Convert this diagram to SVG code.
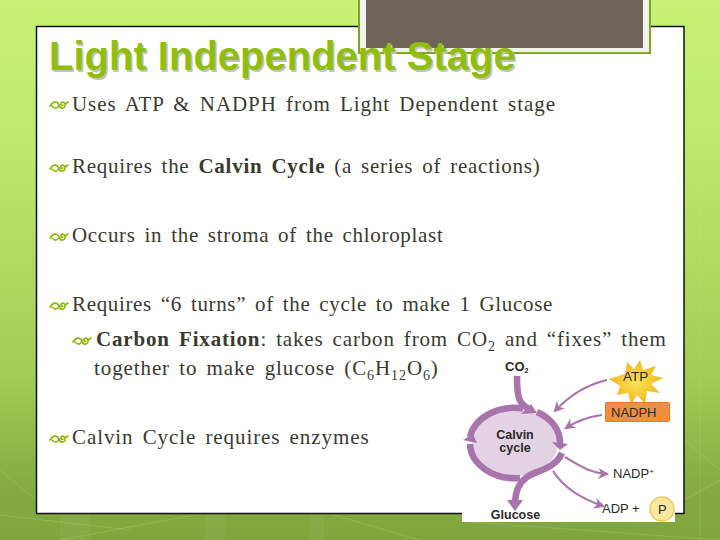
<svg xmlns="http://www.w3.org/2000/svg" width="720" height="540" viewBox="0 0 720 540">
<defs>
<linearGradient id="bg" x1="0" y1="0" x2="0" y2="1"><stop offset="0" stop-color="#c8f276"/><stop offset="0.3" stop-color="#bbe86a"/><stop offset="0.7" stop-color="#a0cc55"/><stop offset="0.9" stop-color="#84ac40"/><stop offset="1" stop-color="#7ea63c"/></linearGradient>
<radialGradient id="atpg" cx="0.5" cy="0.5" r="0.5"><stop offset="0" stop-color="#fbe35a"/><stop offset="1" stop-color="#f2b61c"/></radialGradient>
<marker id="a" viewBox="0 0 10 10" refX="8" refY="5" markerWidth="5" markerHeight="5" orient="auto"><path d="M0 0L10 5L0 10L3 5Z" fill="#a874ab"/></marker>
<g id="bullet" fill="none" stroke="#8cb80c" stroke-width="1.600" stroke-linecap="round"><path d="M0 6C3 1 7 1 9 5C10 9 14 9 15 6C16 3 13 1 11 3C10 5 12 6 13 5"/><path d="M2 6C5 9 7 9 9 5M15 4L18 2"/></g>
</defs>
<style>
.b{font:21px "Liberation Serif",serif;fill:#3a3a30;letter-spacing:.95px;word-spacing:3px}
.bd{font-weight:700}
.sb{font-size:14px}
.c{fill:none;stroke:#a874ab;stroke-width:2.200;marker-end:url(#a)}
.r{fill:none;stroke:#a874ab;stroke-width:6.500}
.h{fill:#a874ab}
.l{font-family:"Liberation Sans",sans-serif;fill:#2a2a2a}
.g{fill:none;stroke:#cfe89a;stroke-opacity:.22;stroke-width:1}
</style>
<rect width="720" height="540" fill="url(#bg)"/>
<g id="texture"><path class="g" d="M0 470L36 500M0 515L130 530M60 540L200 514M330 514L420 540M470 522L720 540M684 440L720 470M700 60V540M684 500L720 480"/><rect x="60" y="514" width="30" height="26" fill="#fff" opacity=".05"/><rect x="205" y="514" width="20" height="26" fill="#fff" opacity=".05"/><rect x="310" y="514" width="14" height="26" fill="#fff" opacity=".05"/></g>
<rect x="36.500" y="26.500" width="647.500" height="487" fill="#fff" stroke="#111" stroke-width="1.500"/>
<g id="tab"><rect x="359" y="-4" width="291" height="57" fill="#f1f3ea" stroke="#7ea61e" stroke-width="2"/><rect x="366" y="-4" width="277" height="52" fill="#6e6558"/></g>
<g id="title" font-family="Liberation Sans,sans-serif" font-weight="700" font-size="40">
<text x="50.500" y="71.500" fill="#c4c4b8">Light Independent Stage</text>
<text x="49" y="70" fill="#8fbe0c">Light Independent Stage</text></g>
<g id="bullets">
<use href="#bullet" x="50" y="100"/><use href="#bullet" x="50" y="163"/><use href="#bullet" x="50" y="232"/><use href="#bullet" x="50" y="301"/><use href="#bullet" x="73" y="336"/><use href="#bullet" x="50" y="434"/>
</g>
<g id="body" class="b">
<text x="72" y="111">Uses ATP &amp; NADPH from Light Dependent stage</text>
<text x="72" y="173" style="letter-spacing:.74px">Requires the <tspan class="bd">Calvin Cycle</tspan> (a series of reactions)</text>
<text x="72" y="242" style="letter-spacing:.69px">Occurs in the stroma of the chloroplast</text>
<text x="72" y="311" style="letter-spacing:.66px">Requires “6 turns” of the cycle to make 1 Glucose</text>
<text x="96" y="346" style="letter-spacing:.84px"><tspan class="bd">Carbon Fixation</tspan>: takes carbon from CO<tspan class="sb" dy="5">2</tspan><tspan dy="-5"> and “fixes” them</tspan></text>
<text x="94" y="375" style="letter-spacing:.9px">together to make glucose (C<tspan class="sb" dy="5">6</tspan><tspan dy="-5">H</tspan><tspan class="sb" dy="5">12</tspan><tspan dy="-5">O</tspan><tspan class="sb" dy="5">6</tspan><tspan dy="-5">)</tspan></text>
<text x="72" y="444" style="letter-spacing:.92px">Calvin Cycle requires enzymes</text>
</g>
<g id="figure">
<rect x="462" y="490" width="213" height="32" fill="#fff"/>
<ellipse cx="515" cy="443" rx="43" ry="33" fill="#e2d2e4"/>
<g id="connectors">
<path class="r" d="M470 437A45 35 0 0 1 523 408.500" stroke-width="5"/>
<path class="r" d="M517 376C517 398 519 404 529 409" stroke-width="7"/>
<path class="h" d="M521 414L537 413L531 404Z"/>
<path class="r" d="M537 412A45 35 0 0 1 560 444" stroke-width="6"/>
<path class="h" d="M552 442L568 444L560 450Z"/>
<path class="r" d="M470 444A45 35 0 0 0 520 478"/>
<path class="h" d="M463 440L473 434L477 443Z"/>
<path class="r" d="M562 453C554 470 537 470 527 477C519 483 516 490 515 502" stroke-width="6.500"/>
<path class="h" d="M507 500L523 500L515 511Z"/>
<path class="c" d="M607 380C585 385 568 397 555 411"/>
<path class="c" d="M602 415C586 417 575 422 566 428"/>
<path class="c" d="M565 457C580 466 590 473 607 474"/>
<path class="c" d="M553 471C565 490 585 500 603 506"/>
</g>
<g id="atp"><path d="M609 379L625 374L627 362L634 369L640 360L643 370L656 366L651 375L663 378L651 384L660 393L647 391L645 404L637 395L631 405L628 393L617 395L620 386Z" fill="url(#atpg)"/><text class="l" x="623" y="381" font-size="13.500">ATP</text></g>
<g id="nadph"><rect x="605.500" y="402.500" width="64" height="19" rx="1" fill="#f08f3e" stroke="#e8772a"/><text class="l" x="611" y="417" font-size="13">NADPH</text></g>
<text class="l" x="613" y="478" font-size="13">NADP<tspan font-size="8" dy="-4">+</tspan></text>
<text class="l" x="602" y="513" font-size="13">ADP +</text>
<g id="p"><circle cx="662" cy="509" r="12" fill="#fbe8a0" stroke="#eecb55" stroke-width="1.500"/><text class="l" x="658" y="514" font-size="13">P</text></g>
<text class="l" x="515" y="439" font-size="12.500" font-weight="700" text-anchor="middle">Calvin</text>
<text class="l" x="515" y="452" font-size="12.500" font-weight="700" text-anchor="middle">cycle</text>
<text class="l" x="515.500" y="519" font-size="12.500" font-weight="700" text-anchor="middle">Glucose</text>
<text class="l" x="505" y="371" font-size="13" font-weight="700">CO<tspan font-size="7" dy="2">2</tspan></text>
</g>
</svg>
